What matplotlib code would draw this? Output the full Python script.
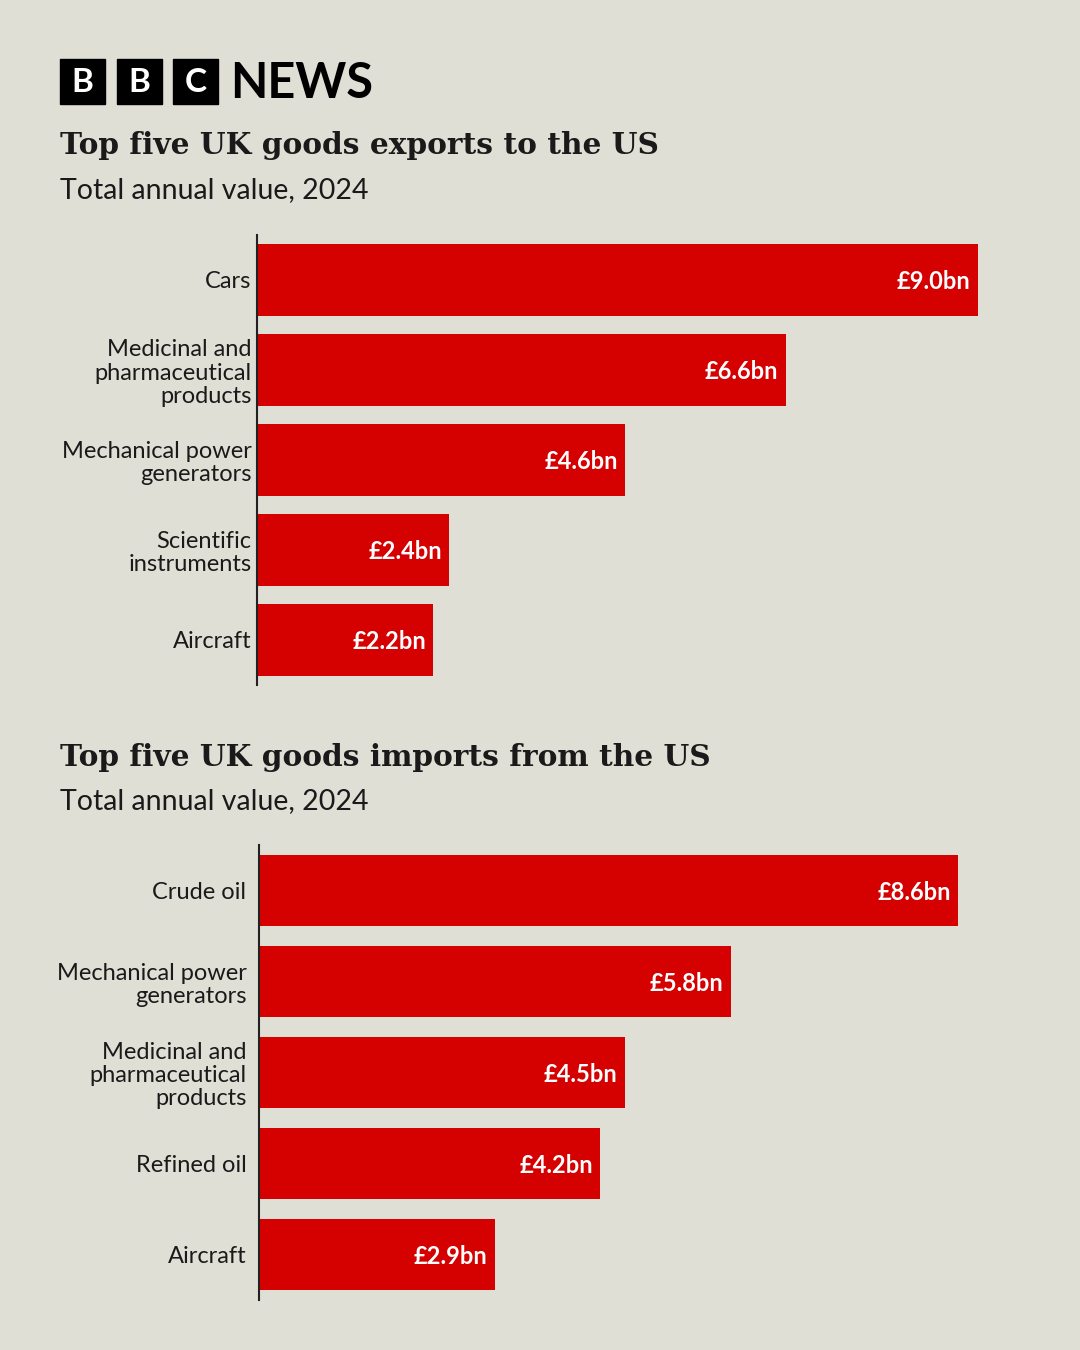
import matplotlib.pyplot as plt
from matplotlib.patches import Rectangle

# 輸出（上段）
export_labels = ['Cars', 'Medicinal and\npharmaceutical\nproducts',
                 'Mechanical power\ngenerators', 'Scientific\ninstruments', 'Aircraft']
export_values = [9.0, 6.6, 4.6, 2.4, 2.2]

# 輸入（下段）
import_labels = ['Crude oil', 'Mechanical power\ngenerators',
                 'Medicinal and\npharmaceutical\nproducts', 'Refined oil', 'Aircraft']
import_values = [8.6, 5.8, 4.5, 4.2, 2.9]

BG = '#E0DFD6'
RED = '#D50000'
W, H = 1080, 1350
SANS = ['Lato', 'DejaVu Sans']
SERIF = ['DejaVu Serif']

fig = plt.figure(figsize=(W / 100, H / 100), dpi=100)
fig.patch.set_facecolor(BG)


def px_axes(left, top, right, bottom):
    # ピクセル座標で軸を作る
    return fig.add_axes([left / W, 1 - bottom / H, (right - left) / W, (bottom - top) / H])


def bar_panel(ax, labels, values, scale, right_px, left_px, pad):
    ax.set_facecolor('none')
    y = list(range(len(values)))
    ax.barh(y, values, height=0.79, color=RED)
    ax.set_xlim(0, (right_px - left_px) / scale)
    ax.set_ylim(len(values) - 0.5, -0.5)
    for s in ['top', 'right', 'bottom']:
        ax.spines[s].set_visible(False)
    ax.spines['left'].set_color('#222222')
    ax.spines['left'].set_linewidth(1.5)
    ax.set_xticks([])
    ax.set_yticks(y)
    ax.set_yticklabels(labels, fontsize=17, family=SANS, color='#1a1a1a', linespacing=1.12)
    ax.tick_params(axis='y', length=0, pad=pad)
    for yi, v in zip(y, values):
        ax.text(v - 0.09, yi + 0.02, f'£{v:.1f}bn', ha='right', va='center', color='white',
                fontsize=17, fontweight='bold', family=SANS)


ax1 = px_axes(257, 235, 1000, 685)
bar_panel(ax1, export_labels, export_values, 80.1, 1000, 257, 4)

ax2 = px_axes(259, 845, 1000, 1300)
bar_panel(ax2, import_labels, import_values, 81.3, 1000, 259, 9)

# BBC NEWS ロゴ
for i, ch in enumerate('BBC'):
    x0 = 60 + i * 56.5
    fig.patches.append(Rectangle((x0 / W, 1 - 104 / H), 45 / W, 45 / H,
                                 transform=fig.transFigure, color='black'))
    fig.text((x0 + 22.5) / W, 1 - 82 / H, ch, ha='center', va='center', color='white',
             fontsize=24, fontweight='bold', family=SANS)
fig.text(230 / W, 1 - 83 / H, 'NEWS', ha='left', va='center', color='black',
         fontsize=35, fontweight='bold', family=SANS)

# タイトル
fig.text(60 / W, 1 - 146 / H, 'Top five UK goods exports to the US', ha='left', va='center',
         fontsize=21.3, fontweight='bold', family=SERIF, color='#1a1a1a')
fig.text(60 / W, 1 - 190 / H, 'Total annual value, 2024', ha='left', va='center',
         fontsize=20.5, family=SANS, color='#1a1a1a')
fig.text(60 / W, 1 - 758 / H, 'Top five UK goods imports from the US', ha='left', va='center',
         fontsize=21.3, fontweight='bold', family=SERIF, color='#1a1a1a')
fig.text(60 / W, 1 - 801 / H, 'Total annual value, 2024', ha='left', va='center',
         fontsize=20.5, family=SANS, color='#1a1a1a')

fig.savefig('out.png', dpi=100, facecolor=BG)
